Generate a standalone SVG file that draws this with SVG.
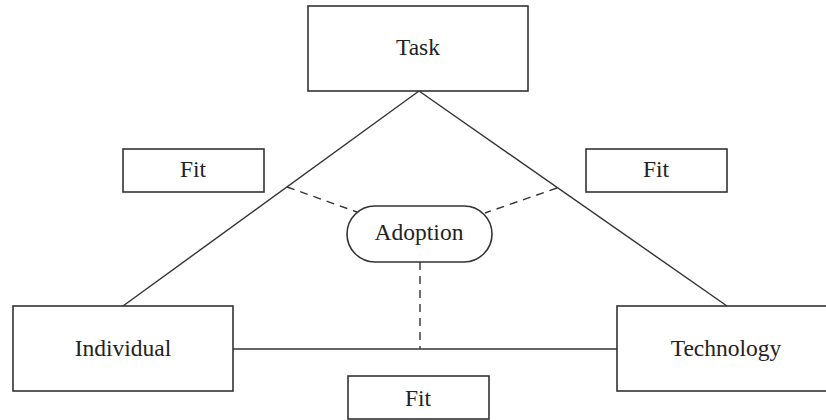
<svg xmlns="http://www.w3.org/2000/svg" width="826" height="420" viewBox="0 0 826 420">
  <style>
    .box { fill: #fff; stroke: #333; stroke-width: 1.6; }
    .line { fill: none; stroke: #333; stroke-width: 1.4; }
    .dash { fill: none; stroke: #333; stroke-width: 1.4; stroke-dasharray: 8 6; }
    .label { font-family: "Liberation Serif", "Times New Roman", serif; font-size: 23.5px; fill: #222; text-anchor: middle; }
  </style>
  <rect width="826" height="420" fill="#fff"/>

  <!-- connectors -->
  <g id="connectors">
    <line class="line" x1="419" y1="91" x2="123" y2="306"/>
    <line class="line" x1="419" y1="91" x2="727" y2="306"/>
    <line class="line" x1="233" y1="349" x2="617" y2="349"/>
    <line class="dash" x1="287" y1="187" x2="357" y2="212"/>
    <line class="dash" x1="557" y1="188" x2="485" y2="213"/>
    <line class="dash" x1="420" y1="262" x2="420" y2="349"/>
  </g>

  <g id="task">
    <rect class="box" x="308" y="6" width="220" height="85"/>
    <text class="label" x="418" y="55">Task</text>
  </g>

  <g id="fit-left">
    <rect class="box" x="123" y="149" width="141" height="43"/>
    <text class="label" x="193" y="177">Fit</text>
  </g>

  <g id="fit-right">
    <rect class="box" x="586" y="149" width="141" height="43"/>
    <text class="label" x="656" y="177">Fit</text>
  </g>

  <g id="adoption">
    <rect class="box" x="347" y="206" width="145" height="56" rx="28" ry="28"/>
    <text class="label" x="419" y="240">Adoption</text>
  </g>

  <g id="individual">
    <rect class="box" x="13" y="306" width="220" height="85"/>
    <text class="label" x="123" y="356">Individual</text>
  </g>

  <g id="technology">
    <rect class="box" x="617" y="306" width="220" height="85"/>
    <text class="label" x="726" y="356">Technology</text>
  </g>

  <g id="fit-bottom">
    <rect class="box" x="348" y="376" width="141" height="43"/>
    <text class="label" x="418" y="406">Fit</text>
  </g>
</svg>
